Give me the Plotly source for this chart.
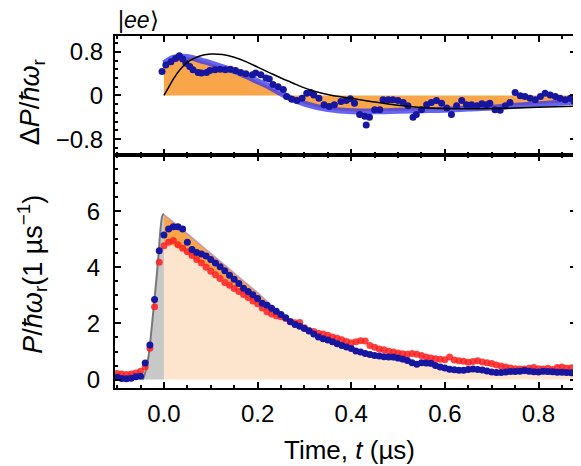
import plotly.graph_objects as go

# ---------------- data ----------------
# bottom panel: time grid (µs) for measured emission power
t_data = [round(-0.10 + 0.01 * i, 2) for i in range(98)]
p_blue = [0.08, 0.04, 0.03, 0.05, 0.10, 0.12, 0.59, 1.23, 2.85, 4.59,
          5.15, 5.36, 5.44, 5.44, 5.36, 4.89, 4.63, 4.53, 4.47, 4.40,
          4.28, 4.15, 4.02, 3.88, 3.72, 3.57, 3.42, 3.25, 3.14, 3.02,
          2.89, 2.72, 2.65, 2.54, 2.43, 2.32, 2.20, 2.06, 1.96, 1.90,
          1.82, 1.73, 1.62, 1.52, 1.45, 1.41, 1.35, 1.28, 1.21, 1.16,
          1.11, 1.02, 0.98, 0.93, 0.89, 0.86, 0.84, 0.81, 0.80, 0.80,
          0.77, 0.73, 0.68, 0.60, 0.55, 0.60, 0.59, 0.58, 0.50, 0.45,
          0.41, 0.37, 0.35, 0.33, 0.33, 0.36, 0.38, 0.36, 0.34, 0.31,
          0.27, 0.25, 0.25, 0.27, 0.29, 0.29, 0.30, 0.32, 0.30, 0.28,
          0.27, 0.30, 0.29, 0.28, 0.26, 0.26, 0.25, 0.24]
p_red = [0.22, 0.20, 0.18, 0.20, 0.23, 0.30, 0.45, 1.12, 2.59, 4.18,
         4.77, 4.89, 4.95, 4.80, 4.68, 4.55, 4.42, 4.28, 4.15, 4.00,
         3.86, 3.73, 3.60, 3.46, 3.36, 3.24, 3.14, 3.03, 2.92, 2.80,
         2.70, 2.55, 2.42, 2.34, 2.27, 2.24, 2.18, 2.07, 2.02, 2.03,
         1.85, 1.75, 1.71, 1.65, 1.62, 1.58, 1.52, 1.47, 1.42, 1.36,
         1.31, 1.35, 1.38, 1.37, 1.21, 1.15, 1.09, 1.06, 1.01, 0.98,
         0.95, 0.92, 0.90, 0.93, 0.90, 0.86, 0.80, 0.77, 0.74, 0.72,
         0.71, 0.80, 0.70, 0.67, 0.65, 0.62, 0.64, 0.67, 0.63, 0.60,
         0.57, 0.52, 0.48, 0.45, 0.41, 0.39, 0.38, 0.38, 0.40, 0.43,
         0.39, 0.38, 0.40, 0.36, 0.43, 0.45, 0.40, 0.42]

# bottom panel: rising drive pulse (gray) and fitted emission curves
t_rise = [-0.045, -0.04, -0.033, -0.026, -0.019, -0.012, -0.007, -0.003, 0.0]
p_rise = [0.0, 0.25, 0.82, 1.88, 3.06, 4.36, 5.42, 5.85, 5.9]
t_fit = [0.0, 0.025, 0.05, 0.075, 0.1, 0.125, 0.15, 0.175, 0.2, 0.225, 0.25,
         0.3, 0.35, 0.4, 0.45, 0.5, 0.55, 0.6, 0.65, 0.7, 0.75, 0.8, 0.85, 0.88]
p_ref = [4.9, 4.72, 4.48, 4.2, 3.93, 3.63, 3.33, 3.03, 2.74, 2.45, 2.2,
         1.75, 1.38, 1.08, 0.85, 0.66, 0.52, 0.41, 0.33, 0.27, 0.23, 0.2, 0.18, 0.17]
p_ee_fit = [5.88, 5.55, 5.2, 4.85, 4.5, 4.15, 3.8, 3.45, 3.1, 2.72, 2.3,
            1.75, 1.38, 1.08, 0.85, 0.66, 0.52, 0.41, 0.33, 0.27, 0.23, 0.2, 0.18, 0.17]

# top panel: ΔP data points
t_dp = [-0.004, 0.004, 0.015, 0.025, 0.033, 0.04, 0.047, 0.055, 0.062, 0.073,
        0.08, 0.091, 0.098, 0.109, 0.12, 0.131, 0.142, 0.153, 0.164, 0.175,
        0.189, 0.196, 0.207, 0.218, 0.225, 0.233, 0.244, 0.255, 0.262, 0.273,
        0.284, 0.295, 0.305, 0.313, 0.32, 0.331, 0.342, 0.353, 0.364, 0.378,
        0.389, 0.398, 0.407, 0.418, 0.429, 0.432, 0.439, 0.45, 0.461, 0.468,
        0.479, 0.489, 0.5, 0.511, 0.521, 0.532, 0.539, 0.55, 0.561, 0.571,
        0.582, 0.593, 0.604, 0.614, 0.625, 0.636, 0.646, 0.657, 0.668, 0.679,
        0.689, 0.696, 0.707, 0.718, 0.729, 0.739, 0.75, 0.761, 0.771, 0.782,
        0.793, 0.804, 0.814, 0.825, 0.836, 0.846, 0.857, 0.868, 0.876]
dp = [0.44, 0.56, 0.62, 0.68, 0.73, 0.67, 0.59, 0.53, 0.47, 0.42,
      0.41, 0.42, 0.46, 0.47, 0.48, 0.47, 0.48, 0.46, 0.42, 0.40,
      0.38, 0.41, 0.38, 0.32, 0.30, 0.20, 0.16, 0.11, -0.02, -0.07,
      -0.09, -0.05, 0.04, 0.055, 0.01, -0.05, -0.17, -0.20, -0.17, -0.11,
      -0.09, -0.06, -0.14, -0.35, -0.38, -0.54, -0.40, -0.26, -0.26, -0.08,
      -0.08, -0.08, -0.09, -0.13, -0.19, -0.40, -0.35, -0.26, -0.17, -0.13,
      -0.09, -0.14, -0.23, -0.35, -0.19, -0.09, -0.17, -0.17, -0.19, -0.15,
      -0.17, -0.14, -0.26, -0.27, -0.19, -0.13, 0.055, -0.005, -0.02, -0.05,
      -0.08, -0.02, 0.04, 0.01, -0.02, -0.05, -0.08, -0.05, -0.11]

# top panel: fitted ΔP (blue band / orange fill) and theory (black)
t_dpfit = [0.0, 0.02, 0.04, 0.06, 0.08, 0.1, 0.125, 0.15, 0.175, 0.2, 0.225,
           0.25, 0.275, 0.3, 0.325, 0.35, 0.4, 0.45, 0.5, 0.55, 0.6, 0.65,
           0.7, 0.75, 0.8, 0.85, 0.88]
dp_fit = [0.59, 0.69, 0.71, 0.69, 0.64, 0.59, 0.52, 0.45, 0.36, 0.26, 0.16,
          0.04, -0.07, -0.15, -0.21, -0.25, -0.29, -0.29, -0.28, -0.27, -0.26, -0.24,
          -0.22, -0.19, -0.16, -0.13, -0.11]
t_theory = [0.0, 0.01, 0.02, 0.035, 0.05, 0.075, 0.1, 0.125, 0.15, 0.175, 0.2,
            0.225, 0.25, 0.275, 0.3, 0.325, 0.35, 0.375, 0.4, 0.45, 0.5, 0.55,
            0.6, 0.65, 0.7, 0.75, 0.8, 0.88]
dp_theory = [0.0, 0.15, 0.30, 0.48, 0.61, 0.72, 0.76, 0.75, 0.70, 0.62, 0.52,
             0.42, 0.32, 0.23, 0.14, 0.07, 0.02, -0.02, -0.05, -0.12, -0.18, -0.22,
             -0.24, -0.245, -0.24, -0.23, -0.215, -0.195]

x_ticks = [0.0, 0.2, 0.4, 0.6, 0.8]
x_ticktext = ["0.0", "0.2", "0.4", "0.6", "0.8"]
top_ticks = [-0.8, 0, 0.8]
top_ticktext = ["\u22120.8", "0", "0.8"]
bot_ticks = [0, 2, 4, 6]
bot_ticktext = ["0", "2", "4", "6"]

# ---------------- styles ----------------
FONT = "Liberation Sans, Arial, Helvetica, sans-serif"
NAVY = "rgb(22,22,160)"
RED = "rgba(255,30,30,0.85)"
ORANGE = "rgb(249,166,74)"
PEACH = "rgb(253,228,204)"
TICK_SIZE = 24
TITLE_SIZE = 26
YTITLE_SIZE = 27

fig = go.Figure()

# ---- bottom panel (x2, y2) ----
fig.add_trace(go.Scatter(x=t_fit, y=p_ref, mode="lines", line=dict(width=0, color=PEACH),
                         fill="tozeroy", fillcolor=PEACH, xaxis="x2", yaxis="y2",
                         line_shape="spline"))
fig.add_trace(go.Scatter(x=t_fit, y=p_ee_fit, mode="lines",
                         line=dict(width=1.5, color="rgba(140,120,230,0.55)"),
                         fill="tonexty", fillcolor=ORANGE, xaxis="x2", yaxis="y2",
                         line_shape="spline"))
fig.add_trace(go.Scatter(x=t_rise, y=p_rise, mode="lines",
                         line=dict(width=2, color="rgb(120,120,120)"),
                         fill="tozeroy", fillcolor="rgb(200,200,200)",
                         xaxis="x2", yaxis="y2", line_shape="spline"))
fig.add_trace(go.Scatter(x=t_data, y=p_red, mode="markers",
                         marker=dict(size=7, color=RED, line=dict(width=0)),
                         xaxis="x2", yaxis="y2"))
fig.add_trace(go.Scatter(x=t_data, y=p_blue, mode="markers",
                         marker=dict(size=7, color=NAVY, line=dict(width=0)),
                         xaxis="x2", yaxis="y2"))

# ---- top panel (x, y) ----
fig.add_trace(go.Scatter(x=t_dpfit, y=dp_fit, mode="lines", line=dict(width=0, color=ORANGE),
                         fill="tozeroy", fillcolor=ORANGE, line_shape="spline"))
fig.add_trace(go.Scatter(x=t_dpfit, y=dp_fit, mode="lines",
                         line=dict(width=6, color="rgba(50,50,240,0.75)"), line_shape="spline"))
fig.add_trace(go.Scatter(x=t_dp, y=dp, mode="markers",
                         marker=dict(size=7, color=NAVY, line=dict(width=0))))
fig.add_trace(go.Scatter(x=t_theory, y=dp_theory, mode="lines",
                         line=dict(width=1.5, color="black"), line_shape="spline"))

axis_common = dict(showline=True, linewidth=2, linecolor="black", mirror="ticks",
                   ticks="inside", ticklen=6, tickwidth=1.5, tickcolor="black",
                   showgrid=False, zeroline=False, automargin=False,
                   tickfont=dict(family=FONT, size=TICK_SIZE, color="black"))

# The page body adds an 8px offset, so the figure is 8px smaller than the window.
xr = [-0.1045, 0.88]
fig.update_layout(
    width=573, height=458,
    margin=dict(l=107, r=5, t=28, b=78),
    paper_bgcolor="white", plot_bgcolor="white",
    showlegend=False,
    xaxis=dict(range=xr, domain=[0, 1], anchor="y", showticklabels=False,
               tickvals=x_ticks, matches="x2",
               minor=dict(dtick=0.05, tick0=0, ticks="inside", ticklen=3, tickcolor="black"),
               **axis_common),
    yaxis=dict(range=[-1.09, 1.09], domain=[0.662, 1], anchor="x",
               tickvals=top_ticks, ticktext=top_ticktext, ticklabelstandoff=5,
               minor=dict(dtick=0.16, tick0=0, ticks="inside", ticklen=3, tickcolor="black"),
               **axis_common),
    xaxis2=dict(range=xr, domain=[0, 1], anchor="y2",
                tickvals=x_ticks, ticktext=x_ticktext, ticklabelstandoff=3,
                minor=dict(dtick=0.05, tick0=0, ticks="inside", ticklen=3, tickcolor="black"),
                **axis_common),
    yaxis2=dict(range=[-0.3, 8.0], domain=[0, 0.662], anchor="x2",
                tickvals=bot_ticks, ticktext=bot_ticktext, ticklabelstandoff=8,
                minor=dict(dtick=0.5, tick0=0, ticks="inside", ticklen=3, tickcolor="black"),
                **axis_common),
    annotations=[
        dict(text="|<i>ee</i>\u27e9", xref="paper", yref="paper", x=0.052, y=1.046,
             xanchor="center", yanchor="middle", showarrow=False,
             font=dict(family=FONT, size=23, color="black")),
        dict(text="\u0394<i>P</i>/<i>\u0127\u03c9</i><sub>r</sub>", xref="paper", yref="paper",
             x=-0.18, y=0.812, textangle=-90, xanchor="center", yanchor="middle",
             showarrow=False, font=dict(family=FONT, size=YTITLE_SIZE, color="black")),
        dict(text="<i>P</i>/<i>\u0127\u03c9</i><sub>r</sub>(1 \u00b5s<sup>\u22121</sup>)",
             xref="paper", yref="paper", x=-0.18, y=0.322, textangle=-90,
             xanchor="center", yanchor="middle", showarrow=False,
             font=dict(family=FONT, size=YTITLE_SIZE, color="black")),
        dict(text="Time, <i>t</i> (\u00b5s)", xref="paper", yref="paper",
             x=0.508, y=-0.176, xanchor="center", yanchor="middle", showarrow=False,
             font=dict(family=FONT, size=TITLE_SIZE, color="black")),
    ],
)

fig.write_html("out.html")
